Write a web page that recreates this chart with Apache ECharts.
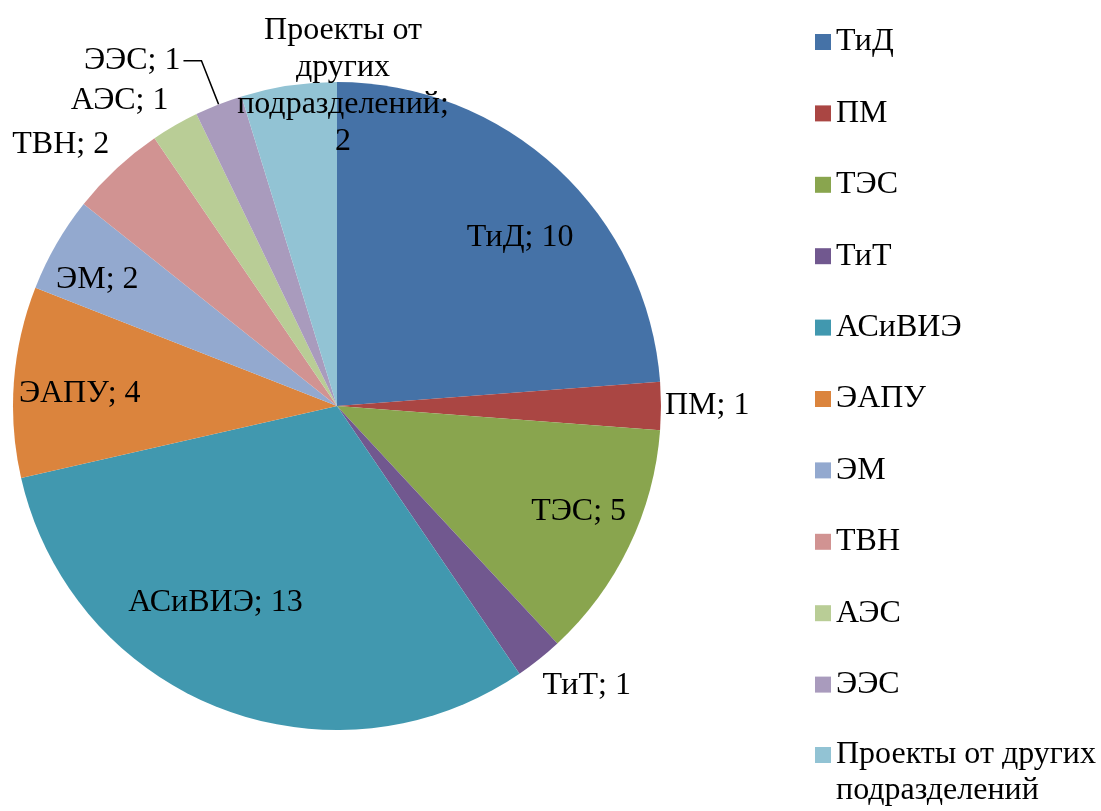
<!DOCTYPE html>
<html>
<head>
<meta charset="utf-8">
<script src="https://cdn.jsdelivr.net/npm/echarts@6/dist/echarts.min.js"></script>
<style>
  html, body { margin: 0; background: #fff; }
  #chart { width: 1101px; height: 811px; }
</style>
</head>
<body>
<div id="chart"></div>
<script>
// данные диаграммы
const categories = ['ТиД', 'ПМ', 'ТЭС', 'ТиТ', 'АСиВИЭ', 'ЭАПУ', 'ЭМ', 'ТВН', 'АЭС', 'ЭЭС', 'Проекты от других подразделений']
const values = [10, 1, 5, 1, 13, 4, 2, 2, 1, 1, 2]
const colors = ['#4572A7', '#AA4643', '#89A54E', '#71588F', '#4198AF', '#DB843D', '#93A9CF', '#D19392', '#B9CD96', '#A99BBD', '#92C3D4']

const FONT = '"Liberation Serif", "Times New Roman", serif'
const LAST = categories[categories.length - 1]

// подписи, которые стоят снаружи круга: длина выноски и отступ текста
const outside = {
  'ПМ': { len: 0, len2: 0, dist: 4 },
  'ТиТ': { len: 33, len2: 0, dist: -17 },
  'ТВН': { len: 33, len2: 0, dist: -15 },
  'АЭС': { len: 29, len2: 0, dist: -8 },
  'ЭЭС': { len: 47, len2: 18, dist: 3, line: true },
  [LAST]: { len: 0, len2: 0, dist: 5 }
}

// небольшие сдвиги внутренних подписей (как в Excel "по ширине")
const insideShift = {
  'ТиД': [9, 19],
  'ТЭС': [11, -5],
  'АСиВИЭ': [-28, -42],
  'ЭАПУ': [-2, 7],
  'ЭМ': [-18, 2]
}

function labelText(p) {
  if (p.name === LAST) return 'Проекты от\nдругих\nподразделений;\n' + p.value
  return p.name + '; ' + p.value
}

const labelStyle = { fontFamily: FONT, fontSize: 32, lineHeight: 37, color: '#000' }
const legendText = { fontFamily: FONT, fontSize: 32, lineHeight: 36, color: '#000' }

// видимый круг: сектора + внешние подписи
const mainData = categories.map((name, i) => {
  const o = outside[name]
  return {
    name,
    value: values[i],
    itemStyle: { color: colors[i] },
    label: o ? { show: true, distanceToLabelLine: o.dist } : { show: false },
    labelLine: o ? { show: !!o.line, length: o.len, length2: o.len2 } : { show: false }
  }
})

// прозрачный круг большего радиуса, только чтобы поставить внутренние подписи ближе к краю
const innerData = categories.map((name, i) => ({
  name,
  value: values[i],
  itemStyle: { color: 'rgba(0,0,0,0)' },
  label: { show: !outside[name] }
}))

const legendBase = {
  orient: 'vertical',
  left: 815,
  padding: 0,
  icon: 'rect',
  itemWidth: 16,
  itemHeight: 16,
  selectedMode: false
}

const chart = echarts.init(document.getElementById('chart'))
chart.setOption({
  animation: false,
  legend: [
    Object.assign({}, legendBase, {
      top: 24,
      height: 1000,
      itemGap: 35.4,
      data: categories.slice(0, -1),
      textStyle: legendText
    }),
    // двухстрочный пункт отдельно: пустая первая строка ставит квадратик напротив "Проекты от других"
    Object.assign({}, legendBase, {
      top: 701,
      data: [LAST],
      formatter: () => '{e| }\nПроекты от других\nподразделений',
      textStyle: Object.assign({ rich: { e: { fontSize: 32, lineHeight: 36 } } }, legendText)
    })
  ],
  series: [
    {
      type: 'pie',
      center: [337, 406],
      radius: 324,
      startAngle: 90,
      clockwise: true,
      avoidLabelOverlap: false,
      emphasis: { disabled: true },
      itemStyle: { borderWidth: 0 },
      label: Object.assign({ position: 'outside', formatter: labelText }, labelStyle),
      labelLine: { lineStyle: { color: '#000', width: 1.5 } },
      labelLayout: function (params) {
        // многострочная подпись последнего сектора — по центру над краем круга
        if (params.dataIndex === categories.length - 1) {
          return { align: 'center', x: params.rect.x + params.rect.width + 6 }
        }
      },
      data: mainData
    },
    {
      type: 'pie',
      center: [337, 406],
      radius: 506,
      startAngle: 90,
      clockwise: true,
      silent: true,
      emphasis: { disabled: true },
      label: Object.assign({ position: 'inside', formatter: labelText }, labelStyle),
      labelLine: { show: false },
      labelLayout: function (params) {
        const s = insideShift[categories[params.dataIndex]]
        if (s) return { dx: s[0], dy: s[1] }
      },
      data: innerData
    }
  ]
})
</script>
</body>
</html>
